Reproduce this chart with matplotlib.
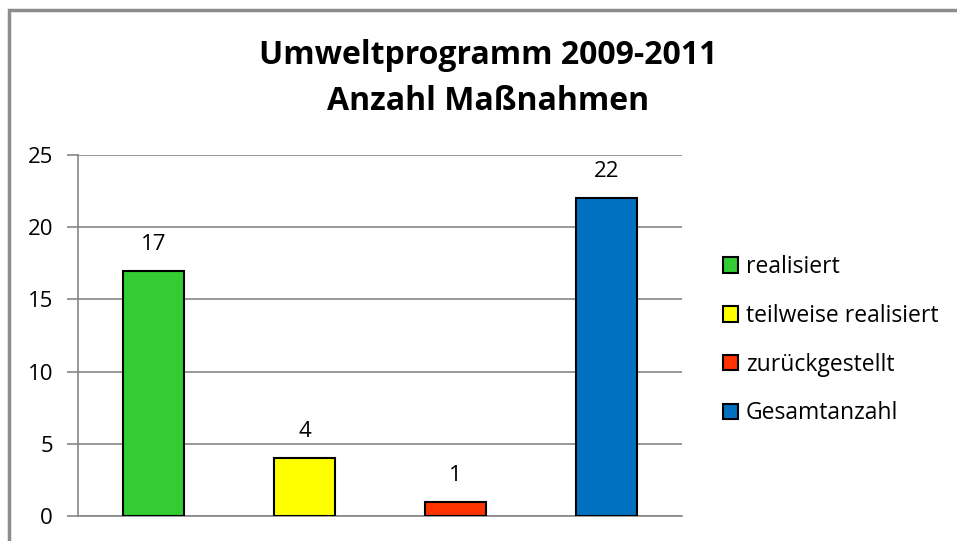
import matplotlib.pyplot as plt
from matplotlib.patches import Rectangle

categories = ["realisiert", "teilweise realisiert", "zurückgestellt", "Gesamtanzahl"]
values = [17, 4, 1, 22]
colors = ["#33cc33", "#ffff00", "#ff3300", "#0070c0"]

plt.rcParams['font.family'] = ['Open Sans', 'DejaVu Sans']

W, H = 957, 541
fig = plt.figure(figsize=(W / 100, H / 100), dpi=100)

# chart frame (cut off at the right and bottom)
fig.patches.append(Rectangle((9 / W, -0.1), 1.2, (H - 10) / H + 0.1,
                             transform=fig.transFigure, fill=False,
                             edgecolor="#8c8c8c", linewidth=2.5))

ax = fig.add_axes([78 / W, 1 - 516 / H, (682 - 78) / W, (516 - 155) / H])
x = range(len(categories))
bars = ax.bar(x, values, width=0.4, color=colors, edgecolor="black",
              linewidth=1.5, label=categories, zorder=3)

ax.set_xlim(-0.5, len(categories) - 0.5)
ax.set_ylim(0, 25)
ax.set_yticks(range(0, 26, 5))
ax.set_xticks([])
ax.yaxis.grid(True, color="#868686", linewidth=1.2, zorder=0)
for side in ["top", "right"]:
    ax.spines[side].set_visible(False)
ax.spines["left"].set_color("#868686")
ax.spines["bottom"].set_color("#868686")
ax.spines["left"].set_linewidth(1.2)
ax.spines["bottom"].set_linewidth(1.2)
ax.tick_params(axis="y", length=8, width=1.2, color="#868686",
               labelsize=16, pad=10)

for b, v in zip(bars, values):
    ax.annotate(str(v), (b.get_x() + b.get_width() / 2, v),
                xytext=(0, 19), textcoords="offset points",
                ha="center", va="center", fontsize=16)

fig.text(488 / W, 1 - 55 / H, "Umweltprogramm 2009-2011", ha="center",
         va="center", fontsize=23, fontweight="bold")
fig.text(488 / W, 1 - 101 / H, "Anzahl Maßnahmen", ha="center",
         va="center", fontsize=23, fontweight="bold")

handles = [Rectangle((0, 0), 1, 1, facecolor=c, edgecolor="black", linewidth=1.5)
           for c in colors]
fig.legend(handles, categories, loc="upper left",
           bbox_to_anchor=(714 / W, 1 - 246 / H), frameon=False,
           fontsize=16.5, handlelength=0.65, handleheight=0.65,
           handletextpad=0.35, labelspacing=1.08, borderaxespad=0)

fig.savefig("out.png", dpi=100)
